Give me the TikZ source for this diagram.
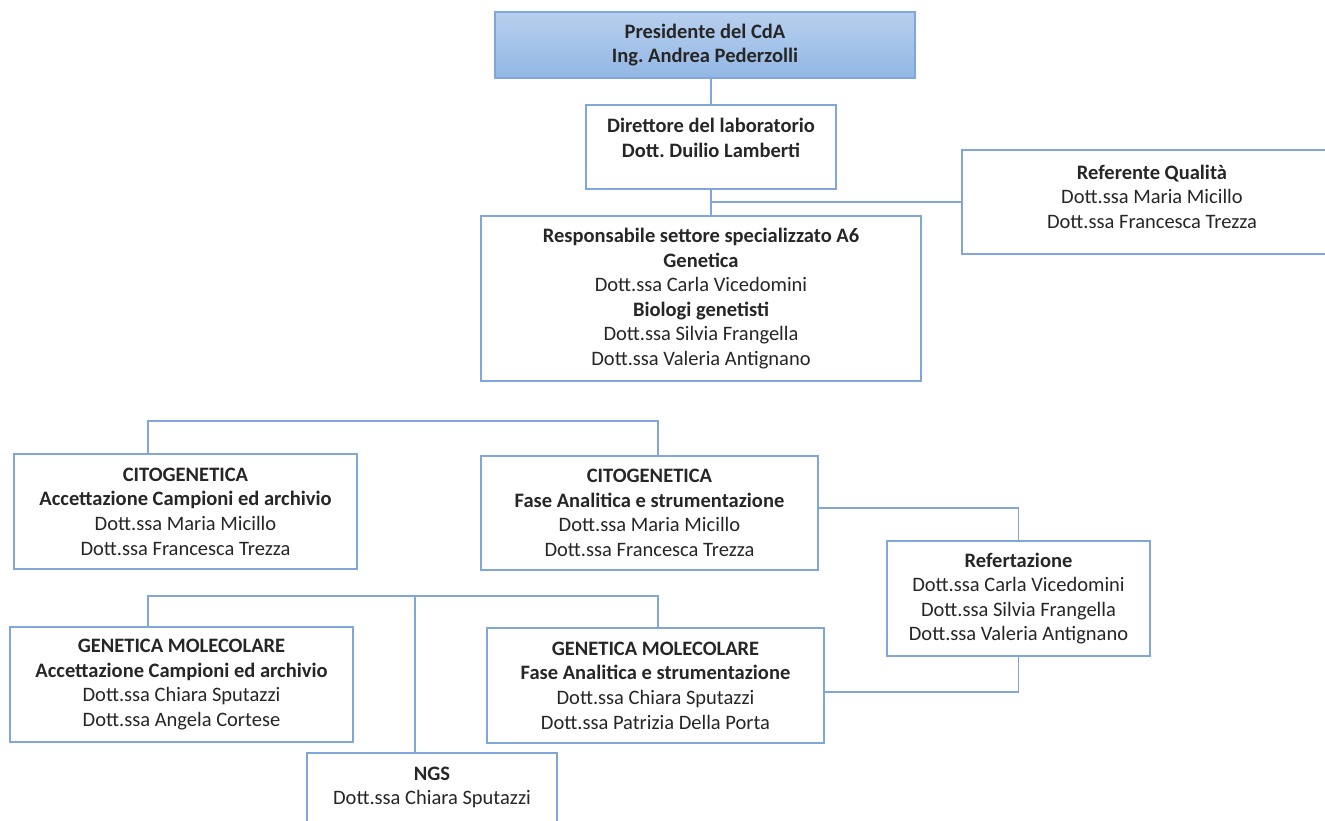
\documentclass[tikz,border=0pt]{standalone}
\usepackage{fontspec}
\setmainfont{Carlito}
\usepackage{tikz}
\frenchspacing

\definecolor{linkblue}{RGB}{128,166,218}
\definecolor{textgray}{RGB}{38,38,38}
\definecolor{presTop}{RGB}{184,207,238}
\definecolor{presBot}{RGB}{146,183,228}

\begin{document}
\begin{tikzpicture}[x=1pt,y=-1pt,
        box/.style={draw=linkblue,line width=1.2pt,fill=white,align=center,
            inner sep=2pt,text=textgray,font=\fontsize{20.5}{24.6}\selectfont},
        link/.style={draw=linkblue,line width=1.2pt}]
    \clip (0,0) rectangle (1325,821);
    \fill[white] (0,0) rectangle (1325,821);

    \node[box,minimum width=420,minimum height=66,top color=presTop,bottom color=presBot]
        (pres) at (705,45) {\textbf{Presidente del CdA}\\\textbf{Ing. Andrea Pederzolli}};
    \node[box,minimum width=250,minimum height=84] (dir) at (711,147)
        {\textbf{Direttore del laboratorio}\\\textbf{Dott. Duilio Lamberti}\\[-6pt]\mbox{}};
    \node[box,minimum width=380,minimum height=104] (qual) at (1152,202)
        {\textbf{Referente Qualità}\\Dott.ssa Maria Micillo\\Dott.ssa Francesca Trezza\\[-14pt]\mbox{}};
    \node[box,minimum width=440,minimum height=165] (resp) at (701,298.5)
        {\textbf{Responsabile settore specializzato A6}\\\textbf{Genetica}\\Dott.ssa Carla Vicedomini\\
         \textbf{Biologi genetisti}\\Dott.ssa Silvia Frangella\\Dott.ssa Valeria Antignano};

    \node[box,minimum width=343,minimum height=115] (cito1) at (185.5,511.5)
        {\textbf{CITOGENETICA}\\\textbf{Accettazione Campioni ed archivio}\\Dott.ssa Maria Micillo\\Dott.ssa Francesca Trezza};
    \node[box,minimum width=337,minimum height=114] (cito2) at (649.5,513)
        {\textbf{CITOGENETICA}\\\textbf{Fase Analitica e strumentazione}\\Dott.ssa Maria Micillo\\Dott.ssa Francesca Trezza};
    \node[box,minimum width=263,minimum height=115] (referto) at (1018.5,598.5)
        {\textbf{Refertazione}\\Dott.ssa Carla Vicedomini\\Dott.ssa Silvia Frangella\\Dott.ssa Valeria Antignano};

    \node[box,minimum width=343,minimum height=115] (gm1) at (181.5,684.5)
        {\textbf{GENETICA MOLECOLARE}\\\textbf{Accettazione Campioni ed archivio}\\Dott.ssa Chiara Sputazzi\\Dott.ssa Angela Cortese};
    \node[box,minimum width=337,minimum height=115] (gm2) at (655.5,685.5)
        {\textbf{GENETICA MOLECOLARE}\\\textbf{Fase Analitica e strumentazione}\\Dott.ssa Chiara Sputazzi\\Dott.ssa Patrizia Della Porta};
    \node[box,minimum width=250,minimum height=82] (ngs) at (432,794)
        {\textbf{NGS}\\Dott.ssa Chiara Sputazzi\\[-8pt]\mbox{}};

    % top part
    \draw[link] (pres.south -| dir.north) -- (dir.north);
    \draw[link] (dir.south) -- (dir.south |- resp.north);
    \draw[link] (qual.west) -- (qual.west -| dir.south);

    % citogenetica
    \coordinate (c1) at (148,421);
    \coordinate (c2) at (658,421);
    \draw[link] (cito1.north -| c1) -- (c1) -- (c2) -- (cito2.north -| c2);
    \draw[link] ([yshift=5pt]cito2.east) -| (referto.north);

    % genetica molecolare
    \coordinate (g1) at (148,596);
    \coordinate (g2) at (658,596);
    \coordinate (g3) at (415,596);
    \draw[link] (gm1.north -| g1) -- (g1) -- (g2) -- (gm2.north -| g2);
    \draw[link] (g3) -- (ngs.north -| g3);
    \draw[link] ([yshift=-6.5pt]gm2.east) -| (referto.south);
\end{tikzpicture}
\end{document}
